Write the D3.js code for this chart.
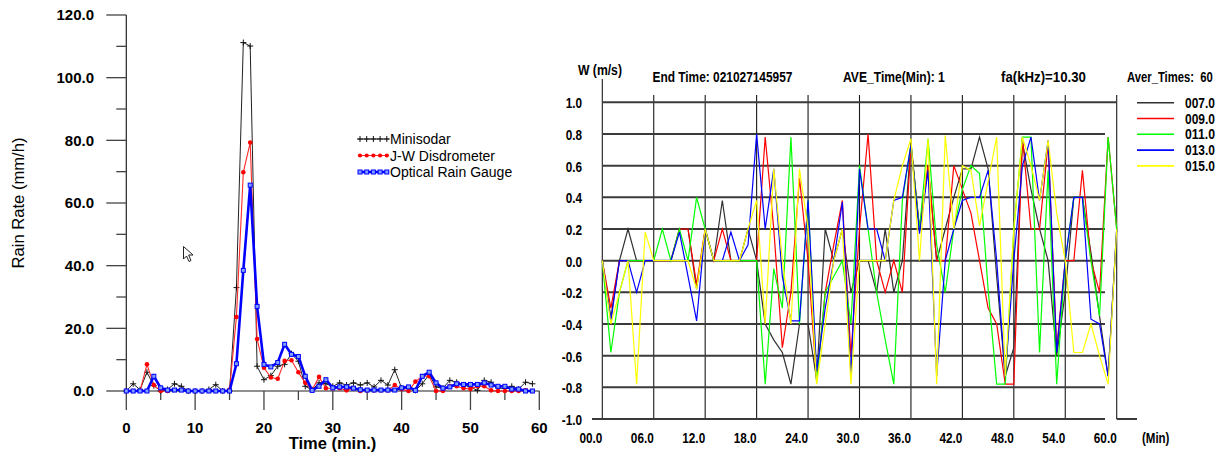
<!DOCTYPE html>
<html><head><meta charset="utf-8">
<script src="https://cdn.jsdelivr.net/npm/d3@7"></script>
<style>body{margin:0;background:#fff}svg{display:block;background:#fff}</style>
</head><body>
<svg id="c" width="1225" height="456"></svg>
<script>
// ---------- Left chart data ----------
const minutesL = d3.range(0, 60);
const minisodar = [0,2.3,0.4,6,1.7,0,0.5,2.3,1.5,0, 0,0,0.5,2,0,0,33,111.2,110.1,7.9, 3.6,4.9,7.9,8.5,11.9,9.5,1.5,0.4,2.6,2.3, 1.5,2.6,1.9,2.6,1.9,2.6,1.3,3.4,1.9,6.8, 0.9,1,0.2,2.3,5.3,1.3,0.9,3.4,2.8,1.9, 1.3,0.2,3.4,2.8,1,0.8,1.5,0.6,2.8,2.3];
const jwDisdrometer = [0,0,0,8.5,1.9,0,0,0.3,0.3,0, 0,0,0,0,0,0.5,23.6,69.8,79.3,16.6, 7.4,4.3,3.9,9.6,9.8,6,2.6,0.4,4.5,0.9, 0.9,0.9,0.2,0.9,0,0.2,0.2,0.2,0.2,1.9, 0.6,0,3,4.7,4.7,0,0,1.5,1.5,0.9, 0.6,1.5,1.5,0.2,0,0,0,0,0.2,0];
const opticalRainGauge = [0,0,0,0,4.7,1,0.3,0.3,0.3,0, 0,0,0,0,0,0,8.7,38.5,65.7,27, 8.5,7.7,9.1,14.9,11.7,11,4.7,0.2,1.5,3.6, 1,1.3,1.3,0.9,0.4,0.3,0.3,0.3,0.3,0.3, 1,1.3,0.2,4.7,6,2.6,0.9,1.3,2.3,2.1, 2.1,2.1,2.6,1.9,1.5,1.5,0.6,0.6,0,0];
const rainYTicks = [0,20,40,60,80,100,120];
const rainYMinor = [10,30,50,70,90,110];
const rainXTicks = [0,10,20,30,40,50,60];
const rainXMinor = [5,15,25,35,45,55];
const leftLegend = ["Minisodar","J-W Disdrometer","Optical Rain Gauge"];

// ---------- Right chart data ----------
const minutesR = d3.range(0, 61);
const w007 = [0,-0.36,0,0.2,0,0,0,0,0,0.2, 0.2,-0.18,0.2,0,0.38,0,0,0.2,0,-0.4, -0.5,-0.58,-0.78,-0.4,-0.4,-0.75,0.2,0,0.2,-0.2, 0,0,-0.2,0.2,-0.2,0,0.75,0.2,0.6,0, 0.2,0.4,0.58,0.58,0.78,0.58,-0.1,-0.73,-0.55,0.75, 0.45,0.2,0,-0.6,-0.2,0.4,0.4,0.05,-0.35,-0.73, 0.2];
const w009 = [0,-0.3,0,0,0,0,0,0,0,0.2, 0.2,-0.15,0.2,0,0.2,0,0,0,0,0.78, 0.2,-0.55,-0.2,0.52,0,-0.76,-0.2,0.1,0.38,-0.6, 0.2,0.8,0,-0.2,0,-0.2,0.73,0.2,0.6,0, 0,0.6,0.45,0.3,0,-0.3,-0.4,-0.78,-0.78,0.78, 0.2,0.2,0.74,-0.55,0,0,0.57,0,-0.2,0.78, 0.2];
const w011 = [0,-0.58,-0.2,0,0,0,0,0.2,0,0.2, 0,0.4,0.2,0,0,0,0,0,0,-0.78, -0.05,-0.3,0.78,-0.4,0.38,-0.77,-0.2,-0.1,0,-0.4, 0.6,0.2,-0.2,-0.5,-0.78,0.38,0.73,0.2,0.77,0.1, -0.2,0.2,0.45,0.6,0.55,-0.18,-0.78,-0.78,0.2,0.78, 0.78,-0.58,0.57,-0.78,0,0.4,0.4,0,-0.35,0.78, 0.2];
const w013 = [0,-0.38,0,0,-0.2,0,0,0,0,0.18, -0.1,-0.38,0.2,0,0,0.18,0,0.1,0.8,0.2, 0.58,-0.1,-0.38,-0.38,0.38,-0.7,-0.3,0,0.37,-0.73, 0.58,0.2,0.2,0,0.38,0.4,0.73,0.17,0.57,-0.73, 0,0.2,0.38,0.4,0.4,0.57,0,-0.73,0,0.6, 0.78,0.38,0.76,-0.58,0,0.4,0.4,-0.37,-0.4,-0.73, 0.2];
const w015 = [0,-0.4,-0.2,0,-0.78,0.18,0,0,0,0, 0,-0.18,0.2,0,0,0,0,0.2,0.38,-0.4, 0.58,0,-0.4,0.58,0.2,-0.78,-0.4,0,0.2,-0.78, 0,0,0,0,0.38,0.6,0.77,0,0.77,-0.78, 0.79,0.2,0.6,0.57,0.22,0.5,0.78,-0.73,0.2,0.78, 0.6,0.38,0.76,0.3,0,-0.58,-0.58,-0.4,-0.6,-0.78, 0.2];
const wNames = ["007.0","009.0","011.0","013.0","015.0"];
const wColors = ["#303030","#ff0000","#00ff00","#0000ff","#ffff00"];
const wYTicks = [1,0.8,0.6,0.4,0.2,0,-0.2,-0.4,-0.6,-0.8,-1];
const wYLabels = ["1.0","0.8","0.6","0.4","0.2","0.0","-0.2","-0.4","-0.6","-0.8","-1.0"];
const wXTicks = [0,6,12,18,24,30,36,42,48,54,60];
const wXLabels = ["00.0","06.0","12.0","18.0","24.0","30.0","36.0","42.0","48.0","54.0","60.0"];
const headerTexts = ["End Time: 021027145957","AVE_Time(Min): 1","fa(kHz)=10.30","Aver_Times:\u00a0 60"];

const svg = d3.select("#c");
const LF = "'Liberation Sans', Arial, sans-serif";

// ================= LEFT CHART =================
const xL = d3.scaleLinear().domain([0, 60]).range([126.3, 539.3]);
const yL = d3.scaleLinear().domain([0, 120]).range([391, 15]);
const gL = svg.append("g");

gL.append("line").attr("x1", xL(0)).attr("x2", xL(0)).attr("y1", yL(120)).attr("y2", yL(0)).attr("stroke", "#222").attr("stroke-width", 1.2);
gL.append("line").attr("x1", xL(0)).attr("x2", xL(60)).attr("y1", yL(0)).attr("y2", yL(0)).attr("stroke", "#222").attr("stroke-width", 1.2);
gL.selectAll(".ymaj").data(rainYTicks).join("line")
  .attr("x1", xL(0) - 20).attr("x2", xL(0)).attr("y1", d => yL(d)).attr("y2", d => yL(d))
  .attr("stroke", "#444").attr("stroke-width", 1.3);
gL.selectAll(".ymin").data(rainYMinor).join("line")
  .attr("x1", xL(0) - 10).attr("x2", xL(0)).attr("y1", d => yL(d)).attr("y2", d => yL(d))
  .attr("stroke", "#444").attr("stroke-width", 1.3);
gL.selectAll(".xmaj").data(rainXTicks).join("line")
  .attr("x1", d => xL(d)).attr("x2", d => xL(d)).attr("y1", yL(0)).attr("y2", yL(0) + 19)
  .attr("stroke", "#444").attr("stroke-width", 1.3);
gL.selectAll(".xmin").data(rainXMinor).join("line")
  .attr("x1", d => xL(d)).attr("x2", d => xL(d)).attr("y1", yL(0)).attr("y2", yL(0) + 9)
  .attr("stroke", "#444").attr("stroke-width", 1.3);

gL.selectAll(".ylab").data(rainYTicks).join("text")
  .attr("x", 94).attr("y", d => yL(d)).attr("dy", "0.36em").attr("text-anchor", "end")
  .attr("font-family", LF).attr("font-weight", "bold").attr("font-size", 15).attr("fill", "#000")
  .text(d => d.toFixed(1));
gL.selectAll(".xlab").data(rainXTicks).join("text")
  .attr("x", d => xL(d)).attr("y", 433).attr("text-anchor", "middle")
  .attr("font-family", LF).attr("font-weight", "bold").attr("font-size", 15).attr("fill", "#000")
  .text(d => d);
gL.append("text").attr("x", 332.5).attr("y", 449).attr("text-anchor", "middle")
  .attr("font-family", LF).attr("font-weight", "bold").attr("font-size", 16.5).attr("fill", "#000")
  .text("Time (min.)");
gL.append("text").attr("transform", "translate(24,203) rotate(-90)").attr("text-anchor", "middle")
  .attr("font-family", LF).attr("font-size", 16.5).attr("fill", "#000")
  .attr("textLength", 131).attr("lengthAdjust", "spacingAndGlyphs")
  .text("Rain Rate (mm/h)");

const lineL = d3.line().x((d, i) => xL(minutesL[i])).y(d => yL(d));
gL.append("path").attr("d", lineL(minisodar)).attr("fill", "none").attr("stroke", "#222").attr("stroke-width", 1);
const plus = (g, x, y, s, c) => {
  g.append("line").attr("x1", x - s).attr("x2", x + s).attr("y1", y).attr("y2", y).attr("stroke", c).attr("stroke-width", 1);
  g.append("line").attr("x1", x).attr("x2", x).attr("y1", y - s).attr("y2", y + s).attr("stroke", c).attr("stroke-width", 1);
};
minisodar.forEach((v, i) => plus(gL, xL(minutesL[i]), yL(v), 3, "#111"));
gL.append("path").attr("d", lineL(jwDisdrometer)).attr("fill", "none").attr("stroke", "#ff2a2a").attr("stroke-width", 1.1);
gL.selectAll(".jw").data(jwDisdrometer).join("circle")
  .attr("cx", (d, i) => xL(minutesL[i])).attr("cy", d => yL(d)).attr("r", 2.3).attr("fill", "#ff0000");
gL.append("path").attr("d", lineL(opticalRainGauge)).attr("fill", "none").attr("stroke", "#0000ff").attr("stroke-width", 2.6);
gL.selectAll(".org").data(opticalRainGauge).join("rect")
  .attr("x", (d, i) => xL(minutesL[i]) - 2).attr("y", d => yL(d) - 2).attr("width", 4).attr("height", 4)
  .attr("fill", "#7f9fff").attr("stroke", "#0000ff").attr("stroke-width", 1);

// legend
const legY = [139, 155.5, 172];
const legX0 = 358, legX1 = 389;
const legMarks = d3.range(0, 5).map(k => legX0 + 2 + k * 6.7);
gL.append("line").attr("x1", legX0).attr("x2", legX1).attr("y1", legY[0]).attr("y2", legY[0]).attr("stroke", "#222");
legMarks.forEach(x => plus(gL, x, legY[0], 3, "#111"));
gL.append("line").attr("x1", legX0).attr("x2", legX1).attr("y1", legY[1]).attr("y2", legY[1]).attr("stroke", "#ff2a2a");
legMarks.forEach(x => gL.append("circle").attr("cx", x).attr("cy", legY[1]).attr("r", 2.1).attr("fill", "#ff0000"));
gL.append("line").attr("x1", legX0).attr("x2", legX1).attr("y1", legY[2]).attr("y2", legY[2]).attr("stroke", "#0000ff").attr("stroke-width", 2.6);
legMarks.forEach(x => gL.append("rect").attr("x", x - 2).attr("y", legY[2] - 2).attr("width", 4).attr("height", 4).attr("fill", "#7f9fff").attr("stroke", "#0000ff"));
gL.selectAll(".legt").data(leftLegend).join("text")
  .attr("x", 390).attr("y", (d, i) => legY[i]).attr("dy", "0.36em")
  .attr("font-family", LF).attr("font-size", 14).attr("fill", "#000").text(d => d);

gL.append("path").attr("d", "M183.5,246.5 L183.5,259 L186.5,256 L189,261.5 L191,260.5 L188.6,255 L193,255 Z")
  .attr("fill", "#fff").attr("stroke", "#222").attr("stroke-width", 1);

// ================= RIGHT CHART =================
const xR = d3.scaleLinear().domain([0, 60]).range([602.3, 1116.7]);
const yR = d3.scaleLinear().domain([-1, 1]).range([419, 102.3]);
const gR = svg.append("g");
const NF = "'Liberation Sans', Arial, sans-serif";
const condense = (sel, f) => sel.each(function () {
  const w = this.getComputedTextLength();
  d3.select(this).attr("textLength", w * f).attr("lengthAdjust", "spacingAndGlyphs");
});
// scale a text horizontally (via transform) so its width equals w
const fitText = (x, y, w, txt) => {
  const g = gR.append("g");
  const t = g.append("text").attr("x", 0).attr("y", 0)
    .attr("font-family", NF).attr("font-weight", "bold").attr("font-size", 14).attr("fill", "#000").text(txt);
  const nat = t.node().getComputedTextLength();
  g.attr("transform", `translate(${x},${y}) scale(${w / nat},1)`);
};

gR.selectAll(".vg").data(wXTicks).join("line")
  .attr("x1", d => xR(d)).attr("x2", d => xR(d))
  .attr("y1", d => d === 0 ? 79 : 95).attr("y2", yR(-1))
  .attr("stroke", "#1a1a1a").attr("stroke-width", 1.1);
gR.selectAll(".hg").data(wYTicks).join("line")
  .attr("x1", d => d === -1 ? 592 : xR(0))
  .attr("x2", d => d === 1 ? xR(60) : 1105)
  .attr("y1", d => yR(d)).attr("y2", d => yR(d))
  .attr("stroke", "#3a3a3a").attr("stroke-width", 2);
gR.append("line").attr("x1", xR(60)).attr("x2", 1137).attr("y1", yR(-1)).attr("y2", yR(-1))
  .attr("stroke", "#3a3a3a").attr("stroke-width", 2);

const lineR = d3.line().x((d, i) => xR(minutesR[i])).y(d => yR(d));
[w007, w009, w011, w013, w015].forEach((s, k) => {
  gR.append("path").attr("d", lineR(s)).attr("fill", "none").attr("stroke", wColors[k]).attr("stroke-width", 1.2);
});

gR.selectAll(".yl").data(wYTicks).join("text")
  .attr("x", 582).attr("y", d => yR(d) + 1).attr("dy", "0.36em").attr("text-anchor", "end")
  .attr("font-family", NF).attr("font-weight", "bold").attr("font-size", 14).attr("fill", "#000")
  .text((d, i) => wYLabels[i]).call(condense, 0.84);
gR.selectAll(".xl").data(wXTicks).join("text")
  .attr("x", d => xR(d)).attr("y", 443).attr("text-anchor", "end")
  .attr("font-family", NF).attr("font-weight", "bold").attr("font-size", 14).attr("fill", "#000")
  .text((d, i) => wXLabels[i]).call(condense, 0.84);
fitText(1142, 443, 27.5, "(Min)");
fitText(578, 75, 44, "W (m/s)");

const hdrX = [652.5, 843, 1001, 1127];
const hdrW = [140, 102, 85, 86];
headerTexts.forEach((t, i) => fitText(hdrX[i], 82, hdrW[i], t));

wNames.forEach((n, k) => {
  const y = 102.7 + k * 15.8;
  gR.append("line").attr("x1", 1137).attr("x2", 1174).attr("y1", y).attr("y2", y)
    .attr("stroke", wColors[k]).attr("stroke-width", 1.6);
  fitText(1185, y + 5, 30, n);
});
</script>
</body></html>
